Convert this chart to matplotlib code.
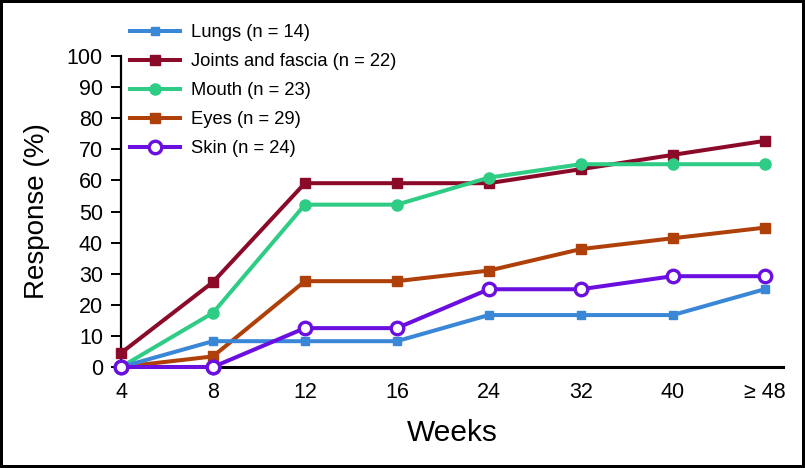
import matplotlib.pyplot as plt

plt.rcParams['font.family'] = ['Liberation Sans', 'DejaVu Sans']

# Data
weeks = ['4', '8', '12', '16', '24', '32', '40', '\u2265 48']
lungs = [0, 8.3, 8.3, 8.3, 16.7, 16.7, 16.7, 25.0]
joints = [4.5, 27.3, 59.1, 59.1, 59.1, 63.6, 68.2, 72.7]
mouth = [0, 17.4, 52.2, 52.2, 60.9, 65.2, 65.2, 65.2]
eyes = [0, 3.4, 27.6, 27.6, 31.0, 37.9, 41.4, 44.8]
skin = [0, 0, 12.5, 12.5, 25.0, 25.0, 29.2, 29.2]

x = list(range(len(weeks)))

fig = plt.figure(figsize=(8.05, 4.68), dpi=100)
fig.patch.set_edgecolor('black')
fig.patch.set_linewidth(3)
ax = fig.add_axes([121/805, 1 - 367/468, (783 - 121)/805, (367 - 56)/468])

lw = 2.9
ax.plot(x, joints, color='#8b0a2a', lw=lw, marker='s', ms=6.5, label='Joints and fascia (n = 22)', zorder=3)
ax.plot(x, mouth, color='#2ecc85', lw=lw, marker='o', ms=8, label='Mouth (n = 23)', zorder=3)
ax.plot(x, eyes, color='#b0400a', lw=lw, marker='s', ms=7.5, label='Eyes (n = 29)', zorder=3)
ax.plot(x, lungs, color='#3a87d8', lw=lw, marker='s', ms=5.5, label='Lungs (n = 14)', zorder=4)
# grey segment sitting on the axis between weeks 4 and 8
ax.plot(x[:2], [0, 0], color='#a6b0ac', lw=2.8, zorder=4, solid_capstyle='butt')
ax.plot(x, skin, color='#6a0fe0', lw=lw, marker='o', ms=9, mfc='white', mew=2.4,
        label='Skin (n = 24)', zorder=5)
# redraw skin markers above the grey segment
ax.plot(x[:2], skin[:2], ls='none', marker='o', ms=9, mfc='white', mec='#6a0fe0', mew=2.4, zorder=6)

ax.set_xlim(0, 7.2)
ax.set_ylim(0, 100)
ax.set_yticks(range(0, 101, 10))
ax.set_xticks(x)
ax.set_xticklabels(weeks)

for s in ['top', 'right']:
    ax.spines[s].set_visible(False)
ax.spines['left'].set_linewidth(1.6)
ax.spines['bottom'].set_linewidth(2.2)
ax.spines['bottom'].set_bounds(1, 7.2)
ax.spines['left'].set_zorder(1)
ax.tick_params(axis='y', length=7, width=1.4, direction='out', pad=6, labelsize=15.5)
ax.tick_params(axis='x', length=0, pad=11, labelsize=15.5)
for line in ax.lines:
    line.set_clip_on(False)

ax.set_ylabel('Response (%)', fontsize=20, labelpad=12)
ax.set_xlabel('Weeks', fontsize=21.5, labelpad=11)

handles, labels = ax.get_legend_handles_labels()
order = [labels.index(l) for l in ['Lungs (n = 14)', 'Joints and fascia (n = 22)',
                                    'Mouth (n = 23)', 'Eyes (n = 29)', 'Skin (n = 24)']]
ax.legend([handles[i] for i in order], [labels[i] for i in order],
          loc='upper left', bbox_to_anchor=(130/805, 1 - 24/468), bbox_transform=fig.transFigure,
          frameon=False, fontsize=13.2, handlelength=2.7, handletextpad=0.6,
          labelspacing=0.66, borderaxespad=0, borderpad=0)

fig.savefig('out.png', dpi=100, edgecolor=fig.get_edgecolor())
